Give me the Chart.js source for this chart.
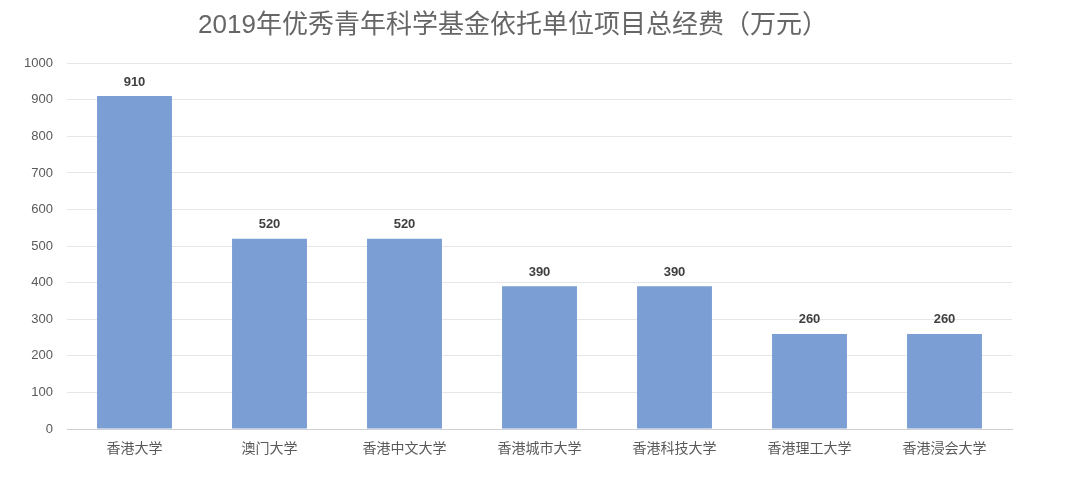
<!DOCTYPE html>
<html>
<head>
<meta charset="utf-8">
<script src="https://cdn.jsdelivr.net/npm/chart.js@4/dist/chart.umd.min.js"></script>
<style>
  html, body { margin: 0; padding: 0; background: #ffffff; }
  #wrap { width: 1080px; height: 481px; position: relative; }
</style>
</head>
<body>
<div id="wrap"><canvas id="c" width="1080" height="481"></canvas></div>
<script>
const titleText = '2019年优秀青年科学基金依托单位项目总经费（万元）';
const categories = ['香港大学', '澳门大学', '香港中文大学', '香港城市大学', '香港科技大学', '香港理工大学', '香港浸会大学'];
const funding = [910, 520, 520, 390, 390, 260, 260];
const yTicks = [0, 100, 200, 300, 400, 500, 600, 700, 800, 900, 1000];

const FONT = '"Liberation Sans", "Noto Sans CJK SC", sans-serif';

const dataLabels = {
  id: 'dataLabels',
  afterDatasetsDraw(chart) {
    const ctx = chart.ctx;
    const meta = chart.getDatasetMeta(0);
    ctx.save();
    ctx.font = 'bold 13px ' + FONT;
    ctx.fillStyle = '#404040';
    ctx.textAlign = 'center';
    ctx.textBaseline = 'middle';
    meta.data.forEach((bar, i) => {
      ctx.fillText(String(chart.data.datasets[0].data[i]), bar.x, bar.y - 14);
    });
    ctx.restore();
  }
};

new Chart(document.getElementById('c'), {
  type: 'bar',
  data: {
    labels: categories,
    datasets: [{
      data: funding,
      backgroundColor: '#7b9fd4',
      borderWidth: 0,
      barPercentage: 0.555,
      categoryPercentage: 1.0
    }]
  },
  options: {
    responsive: false,
    animation: false,
    devicePixelRatio: 1,
    layout: { padding: { top: 10, left: 14, right: 68, bottom: 0 } },
    plugins: {
      legend: { display: false },
      tooltip: { enabled: false },
      title: {
        display: true,
        text: titleText,
        color: '#666666',
        font: { family: FONT, size: 26, weight: 'normal', lineHeight: 1.2 },
        padding: { top: 0, bottom: 22 }
      }
    },
    scales: {
      x: {
        grid: { display: false, drawTicks: false },
        border: { display: true, color: '#d0d0d0', width: 1 },
        ticks: { color: '#595959', font: { family: FONT, size: 14 }, padding: 12, maxRotation: 0, autoSkip: false },
        afterFit(scale) { scale.height = 52; }
      },
      y: {
        min: 0,
        max: 1000,
        afterBuildTicks(scale) { scale.ticks = yTicks.map(v => ({ value: v })); },
        grid: { color: '#e6e6e6', drawTicks: false, lineWidth: 1 },
        border: { display: false },
        ticks: { color: '#595959', font: { family: FONT, size: 13 }, padding: 14, callback: v => String(v) },
        afterFit(scale) { scale.width = 53; }
      }
    }
  },
  plugins: [dataLabels]
});
</script>
</body>
</html>
